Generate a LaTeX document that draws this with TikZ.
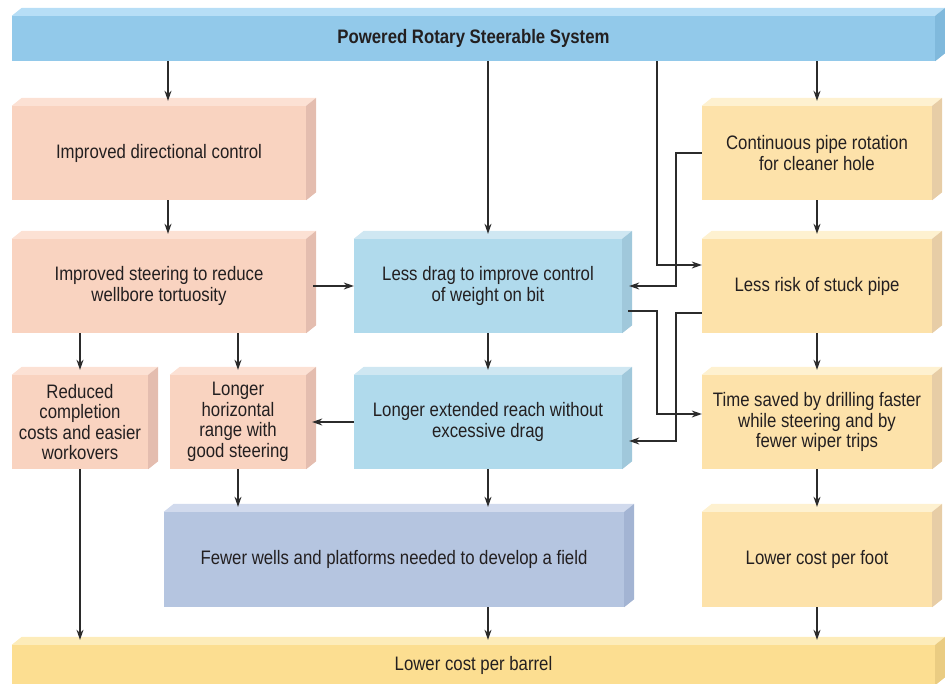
\documentclass[tikz,border=0pt]{standalone}
\usepackage{fontspec}
\setmainfont{Liberation Sans}[FakeStretch=0.86]
\usetikzlibrary{arrows.meta,calc}
\definecolor{ink}{HTML}{231F20}
\definecolor{linec}{HTML}{2B2B2B}
\definecolor{pinkF}{HTML}{F9D3C0}\definecolor{pinkT}{HTML}{FCE1D4}\definecolor{pinkS}{HTML}{E4BDAF}
\definecolor{blueF}{HTML}{B0DAEC}\definecolor{blueT}{HTML}{CFE7F2}\definecolor{blueS}{HTML}{A0C8DB}
\definecolor{topF}{HTML}{92C9EA}\definecolor{topT}{HTML}{B7DEF6}\definecolor{topS}{HTML}{80B9DC}
\definecolor{periF}{HTML}{B5C5E0}\definecolor{periT}{HTML}{D1DAED}\definecolor{periS}{HTML}{A3B4D3}
\definecolor{yelF}{HTML}{FDE2AA}\definecolor{yelT}{HTML}{FEF1D0}\definecolor{yelS}{HTML}{E7CDA6}
\definecolor{barF}{HTML}{FCDE91}\definecolor{barT}{HTML}{FDECBA}\definecolor{barS}{HTML}{EACC82}
\newcommand\boxfont{\fontsize{19.5}{20.5}\selectfont}
\newcommand\boxfaces[3]{%
  \fill[#2] (#1.north west) -- ++(10,-8) -- ([shift={(10,-8)}]#1.north east) -- (#1.north east) -- cycle;
  \fill[#3] (#1.north east) -- ++(10,-8) -- ([shift={(10,-8)}]#1.south east) -- (#1.south east) -- cycle;}
\tikzset{
  face/.style={inner sep=0pt, align=center, font=\boxfont, text=ink},
  arr/.style={draw=linec, line width=1.1pt, -{Stealth[length=10pt,width=7pt]}},
  down/.style={arr, shorten >=5pt},
}
\begin{document}
\begin{tikzpicture}[x=1pt,y=-1pt]
\useasboundingbox (0,0) rectangle (945,684);
% boxes
\node[face, fill=topF, minimum width=923, minimum height=45] (top) at (473.5,38.5) {\bfseries Powered Rotary Steerable System};
\node[face, fill=pinkF, minimum width=294, minimum height=94] (dir) at (159,153) {Improved directional control};
\node[face, fill=pinkF, minimum width=294, minimum height=94] (steer) at (159,286) {Improved steering to reduce\\wellbore tortuosity};
\node[face, fill=pinkF, minimum width=136, minimum height=94] (red) at (80,422) {Reduced\\completion\\costs and easier\\workovers};
\node[face, fill=pinkF, minimum width=136, minimum height=94] (horiz) at (238,422) {Longer\\horizontal\\range with\\good steering};
\node[face, fill=blueF, minimum width=268, minimum height=94] (drag) at (488,286) {Less drag to improve control\\of weight on bit};
\node[face, fill=blueF, minimum width=268, minimum height=94] (ext) at (488,422) {Longer extended reach without\\excessive drag};
\node[face, fill=periF, minimum width=460, minimum height=95] (fewer) at (394,559.5) {Fewer wells and platforms needed to develop a field};
\node[face, fill=yelF, minimum width=230, minimum height=94] (cont) at (817,153) {Continuous pipe rotation\\for cleaner hole};
\node[face, fill=yelF, minimum width=230, minimum height=94] (risk) at (817,286) {Less risk of stuck pipe};
\node[face, fill=yelF, minimum width=230, minimum height=94] (time) at (817,422) {Time saved by drilling faster\\while steering and by\\fewer wiper trips};
\node[face, fill=yelF, minimum width=230, minimum height=95] (foot) at (817,559.5) {Lower cost per foot};
\node[face, fill=barF, minimum width=923, minimum height=40] (bar) at (473.5,665) {Lower cost per barrel};
\boxfaces{top}{topT}{topS}
\boxfaces{dir}{pinkT}{pinkS}
\boxfaces{steer}{pinkT}{pinkS}
\boxfaces{red}{pinkT}{pinkS}
\boxfaces{horiz}{pinkT}{pinkS}
\boxfaces{drag}{blueT}{blueS}
\boxfaces{ext}{blueT}{blueS}
\boxfaces{fewer}{periT}{periS}
\boxfaces{cont}{yelT}{yelS}
\boxfaces{risk}{yelT}{yelS}
\boxfaces{time}{yelT}{yelS}
\boxfaces{foot}{yelT}{yelS}
\boxfaces{bar}{barT}{barS}
% bend points
\coordinate (xB) at (168,0);
\coordinate (xF) at (676,0);
\coordinate (b1) at (657,265);
\coordinate (b3) at (657,311);
\coordinate (b4) at (657,414);
\coordinate (b5) at (676,313);
\coordinate (b6) at (676,441);
% vertical connectors
\draw[down] (top.south -| xB) -- (dir.north -| xB);
\draw[down] (dir.south -| xB) -- (steer.north -| xB);
\draw[down] (top.south -| drag.north) -- (drag.north);
\draw[down] (top.south -| cont.north) -- (cont.north);
\draw[down] (cont.south) -- (risk.north);
\draw[down] (risk.south) -- (time.north);
\draw[down] (time.south) -- (foot.north);
\draw[down] (foot.south) -- (bar.north -| foot.south);
\draw[down] (steer.south -| red.north) -- (red.north);
\draw[down] (steer.south -| horiz.north) -- (horiz.north);
\draw[down] (drag.south) -- (ext.north);
\draw[down] (red.south) -- (bar.north -| red.south);
\draw[down] (horiz.south) -- (fewer.north -| horiz.south);
\draw[down] (ext.south) -- (fewer.north -| ext.south);
\draw[down] (fewer.south -| ext.south) -- (bar.north -| ext.south);
% horizontal connectors
\draw[arr, shorten <=7pt] (steer.east) -- (drag.west);
\draw[arr, shorten >=6pt] (ext.west) -- (horiz.east);
\draw[arr] (top.south -| b1) -- (b1) -- (b1 -| risk.west);
\draw[arr, shorten >=7pt] (cont.west) -- (cont.west -| xF) -- (drag.east -| xF) -- (drag.east);
\draw[arr, shorten <=6pt] (drag.east |- b3) -- (b3) -- (b4) -- (b4 -| time.west);
\draw[arr, shorten >=7pt] (risk.west |- b5) -- (b5) -- (b6) -- (b6 -| ext.east);
\end{tikzpicture}
\end{document}
